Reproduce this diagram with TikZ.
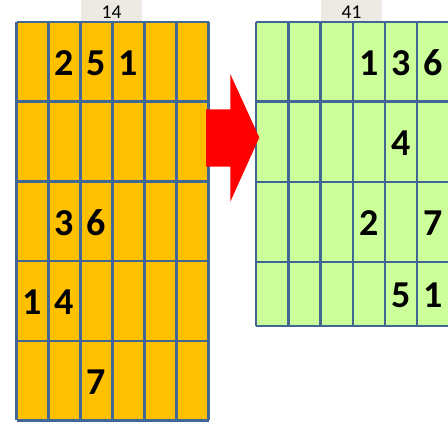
\documentclass[tikz,border=0pt]{standalone}
\usepackage{fontspec}
\setmainfont{Carlito}
\definecolor{gridline}{HTML}{426794}
\definecolor{orangefill}{HTML}{FFC000}
\definecolor{greenfill}{HTML}{CCFF99}
\definecolor{hdrfill}{HTML}{ECEAE3}
\definecolor{arrowred}{HTML}{FF0000}
\tikzset{
  digit/.style={anchor=base, inner sep=0pt, font=\fontsize{38}{38}\selectfont\bfseries},
  hdr/.style={anchor=base, inner sep=0pt, font=\fontsize{19.5}{20}\selectfont},
  gridstroke/.style={draw=gridline, line width=2.4pt},
}
\begin{document}
\begin{tikzpicture}[x=1pt,y=-1pt]
\useasboundingbox (0,0) rectangle (448,425);
\clip (0,0) rectangle (448,425);
% header cells
\fill[hdrfill] (81,0) rectangle (142,21);
\fill[hdrfill] (321,0) rectangle (382,21);
\node[hdr] (h14) at (111.5,18.3) {14};
\node[hdr] (h41) at (351.5,18.3) {41};
% left grid
\fill[orangefill] (16.5,22) rectangle (208.5,420.5);
\foreach \x in {16.5,48.5,80.5,112.5,144.5,176.5,208.5}
  \draw[gridstroke] (\x,22) -- (\x,420.5);
\foreach \y in {22,101.5,181.5,261,341,420.5}
  \draw[gridstroke] (16.5,\y) -- (208.5,\y);
% right grid
\fill[greenfill] (256,22) rectangle (449,326);
\foreach \x in {256,288.3,320.6,352.9,385,416.9,449}
  \draw[gridstroke] (\x,22) -- (\x,326);
\foreach \y in {22,101.5,182,262,326}
  \draw[gridstroke] (256,\y) -- (449,\y);
% arrow
\fill[arrowred] (206,109.3) -- (230.3,109.3) -- (230.3,74) -- (259.3,137.5)
  -- (230.3,201.7) -- (230.3,166.7) -- (206,166.7) -- cycle;
% left digits (baseline = row centre + 14)
\node[digit] (l12) at (64.5,76) {2};
\node[digit] (l13) at (96.5,76) {5};
\node[digit] (l14) at (128.5,76) {1};
\node[digit] (l32) at (64.5,235.5) {3};
\node[digit] (l33) at (96.5,235.5) {6};
\node[digit] (l41) at (32.5,315) {1};
\node[digit] (l42) at (64.5,315) {4};
\node[digit] (l53) at (96.5,394.8) {7};
% right digits
\node[digit] (r14) at (369,76) {1};
\node[digit] (r15) at (401,76) {3};
\node[digit] (r16) at (433,76) {6};
\node[digit] (r25) at (401,155.8) {4};
\node[digit] (r34) at (369,236) {2};
\node[digit] (r36) at (433,236) {7};
\node[digit] (r45) at (401,308) {5};
\node[digit] (r46) at (433,308) {1};
\end{tikzpicture}
\end{document}
